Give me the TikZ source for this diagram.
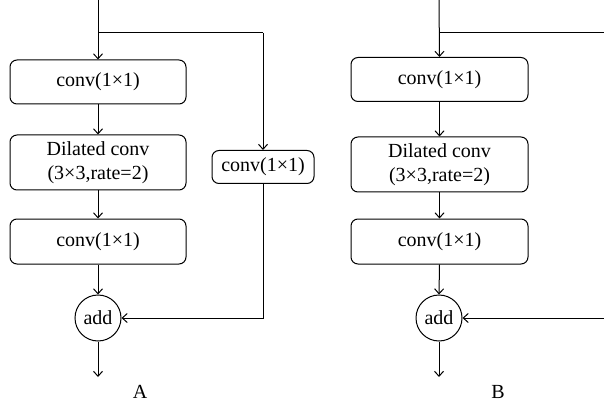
\documentclass[tikz,border=0pt]{standalone}
\usepackage{fontspec}
\setmainfont{Liberation Serif}
\usetikzlibrary{arrows.meta}
\begin{document}
\begin{tikzpicture}[x=1pt,y=-1pt,
  every node/.style={font=\fontsize{20}{24}\selectfont, inner sep=0pt},
  box/.style={draw, line width=1pt, rounded corners=7pt, align=center},
  addnode/.style={draw, line width=1pt, circle, minimum size=46pt},
  conn/.style={line width=1pt},
  arr/.style={conn, -{Straight Barb[length=5pt,width=9pt,line width=1pt]}}]
\useasboundingbox (0,0) rectangle (604,403);
% ---------- A ----------
\node[box, minimum width=176pt, minimum height=44pt] (a1) at (98,82) {conv(1×1)};
\node[box, minimum width=176pt, minimum height=55pt] (a2) at (98,162.5) {Dilated conv\\(3×3,rate=2)};
\node[box, minimum width=176pt, minimum height=45pt] (a3) at (98,241.5) {conv(1×1)};
\node[addnode] (aadd) at (98,318) {add};
\node[box, minimum width=102pt, minimum height=33pt] (aside) at (263,167) {conv(1×1)};
\node (la) at (140,392) {A};
\coordinate (atop) at (98,0);
\coordinate (abr) at (98,33);
\coordinate (acorner) at (263,33);
\coordinate (aout) at (98,377);
\draw[arr] (atop) -- (a1.north);
\draw[conn] (abr) -- (acorner);
\draw[arr] (acorner) -- (aside.north);
\draw[arr] (a1.south) -- (a2.north);
\draw[arr] (a2.south) -- (a3.north);
\draw[arr] (a3.south) -- (aadd.north);
\draw[arr] (aside.south) |- (aadd.east);
\draw[arr] (aadd.south) -- (aout);
% ---------- B ----------
\node[box, minimum width=177pt, minimum height=44pt] (b1) at (439.5,79.5) {conv(1×1)};
\node[box, minimum width=177pt, minimum height=55pt] (b2) at (439.5,164.5) {Dilated conv\\(3×3,rate=2)};
\node[box, minimum width=177pt, minimum height=45pt] (b3) at (439.5,241.5) {conv(1×1)};
\node[addnode] (badd) at (439,318) {add};
\node (lb) at (498,392) {B};
\coordinate (btop) at (439,0);
\coordinate (bbr) at (439,33);
\coordinate (bright) at (604,33);
\coordinate (bin) at (604,318);
\coordinate (bout) at (439,377);
\draw[arr] (btop) -- (b1.north);
\draw[conn] (bbr) -- (bright);
\draw[arr] (b1.south) -- (b2.north);
\draw[arr] (b2.south) -- (b3.north);
\draw[arr] (b3.south) -- (badd.north);
\draw[arr] (bin) -- (badd.east);
\draw[arr] (badd.south) -- (bout);
\end{tikzpicture}
\end{document}
